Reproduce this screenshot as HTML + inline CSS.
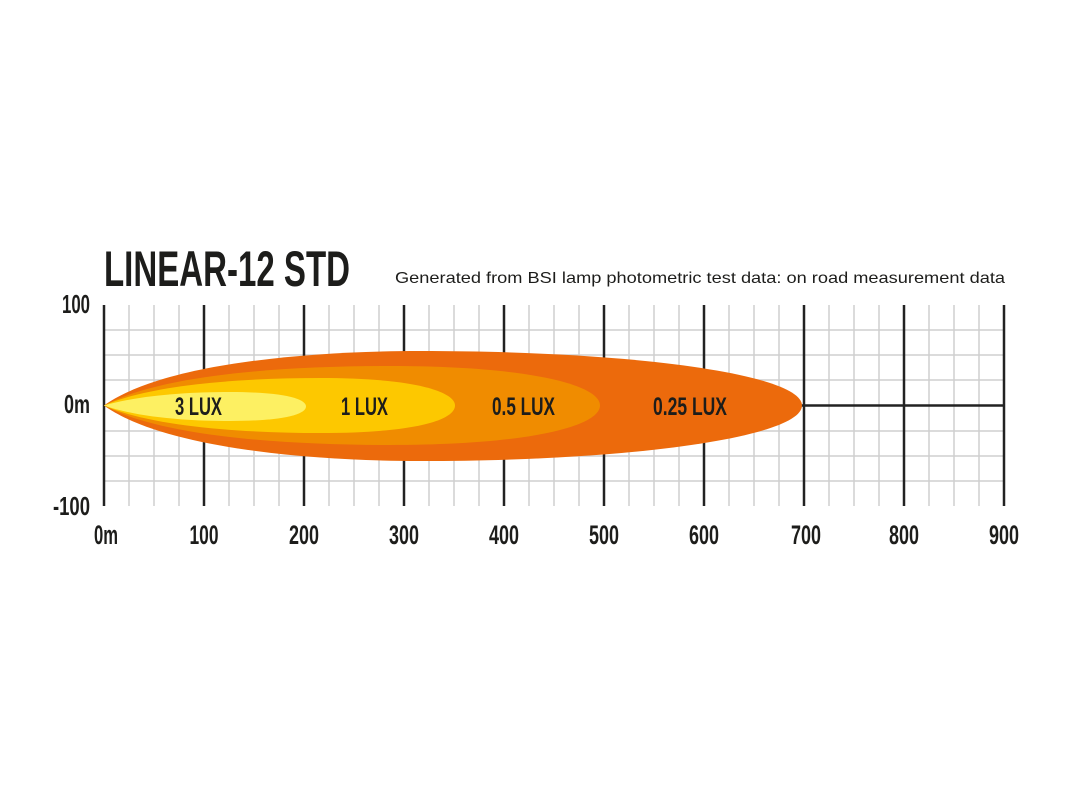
<!DOCTYPE html>
<html><head><meta charset="utf-8"><style>html,body{margin:0;padding:0;background:#fff;}svg{display:block}</style></head>
<body>
<svg width="1080" height="810" viewBox="0 0 1080 810" xmlns="http://www.w3.org/2000/svg">
<rect width="1080" height="810" fill="#fff"/>
<g stroke="#cfcfcf" stroke-width="1.5">
<path d="M129 305V506M154 305V506M179 305V506M229 305V506M254 305V506M279 305V506M329 305V506M354 305V506M379 305V506M429 305V506M454 305V506M479 305V506M529 305V506M554 305V506M579 305V506M629 305V506M654 305V506M679 305V506M729 305V506M754 305V506M779 305V506M829 305V506M854 305V506M879 305V506M929 305V506M954 305V506M979 305V506"/>
<path d="M104 330H1004M104 355H1004M104 380H1004M104 431H1004M104 456H1004M104 481H1004"/>
</g>
<g stroke="#222" stroke-width="2.5">
<path d="M104 305V506M204 305V506M304 305V506M404 305V506M504 305V506M604 305V506M704 305V506M804 305V506M904 305V506M1004 305V506"/>
<path d="M704 405.5H1004"/>
</g>
<path d="M104 405.5 C160 365,300 351,420 351 C640 351,802 375,802 405.5 C802 436,640 461,420 461 C300 461,160 446,104 405.5Z" fill="#ec6a0c"/>
<path d="M104 405.5 C160 375,280 366,390 366 C530 366,600 385,600 405.5 C600 426,530 445,390 445 C280 445,160 436,104 405.5Z" fill="#f08c00"/>
<path d="M104 405.5 C150 385,240 378,320 378 C420 378,455 393,455 405.5 C455 419,420 433,320 433 C240 433,150 426,104 405.5Z" fill="#fdc800"/>
<path d="M104 405.5 C140 395,190 392,230 392 C285 392,306 399,306 406.5 C306 414,285 421,230 421 C190 421,140 418,104 405.5Z" fill="#fdf062"/>
<g font-family="'Liberation Sans Narrow','Liberation Sans',sans-serif" font-weight="bold" fill="#1d1d1b">
<text x="104" y="286" font-size="50" textLength="246" lengthAdjust="spacingAndGlyphs">LINEAR-12 STD</text>
<g font-size="25">
<text x="175" y="415" textLength="47" lengthAdjust="spacingAndGlyphs">3 LUX</text>
<text x="341" y="415" textLength="47" lengthAdjust="spacingAndGlyphs">1 LUX</text>
<text x="492" y="415" textLength="63" lengthAdjust="spacingAndGlyphs">0.5 LUX</text>
<text x="653" y="415" textLength="74" lengthAdjust="spacingAndGlyphs">0.25 LUX</text>
</g>
<g font-size="26">
<text x="62" y="313" textLength="28" lengthAdjust="spacingAndGlyphs">100</text>
<text x="64" y="413" textLength="26" lengthAdjust="spacingAndGlyphs">0m</text>
<text x="53" y="515" textLength="37" lengthAdjust="spacingAndGlyphs">-100</text>
</g>
<g font-size="27" text-anchor="middle">
<text x="106" y="544" textLength="24" lengthAdjust="spacingAndGlyphs">0m</text>
<text x="204" y="544" textLength="29" lengthAdjust="spacingAndGlyphs">100</text>
<text x="304" y="544" textLength="30" lengthAdjust="spacingAndGlyphs">200</text>
<text x="404" y="544" textLength="30" lengthAdjust="spacingAndGlyphs">300</text>
<text x="504" y="544" textLength="30" lengthAdjust="spacingAndGlyphs">400</text>
<text x="604" y="544" textLength="30" lengthAdjust="spacingAndGlyphs">500</text>
<text x="704" y="544" textLength="30" lengthAdjust="spacingAndGlyphs">600</text>
<text x="806" y="544" textLength="30" lengthAdjust="spacingAndGlyphs">700</text>
<text x="904" y="544" textLength="30" lengthAdjust="spacingAndGlyphs">800</text>
<text x="1004" y="544" textLength="30" lengthAdjust="spacingAndGlyphs">900</text>
</g>
</g>
<text x="395" y="283" font-family="'Liberation Sans',sans-serif" font-size="16" fill="#1d1d1b" textLength="610" lengthAdjust="spacingAndGlyphs">Generated from BSI lamp photometric test data: on road measurement data</text>
</svg>
</body></html>
